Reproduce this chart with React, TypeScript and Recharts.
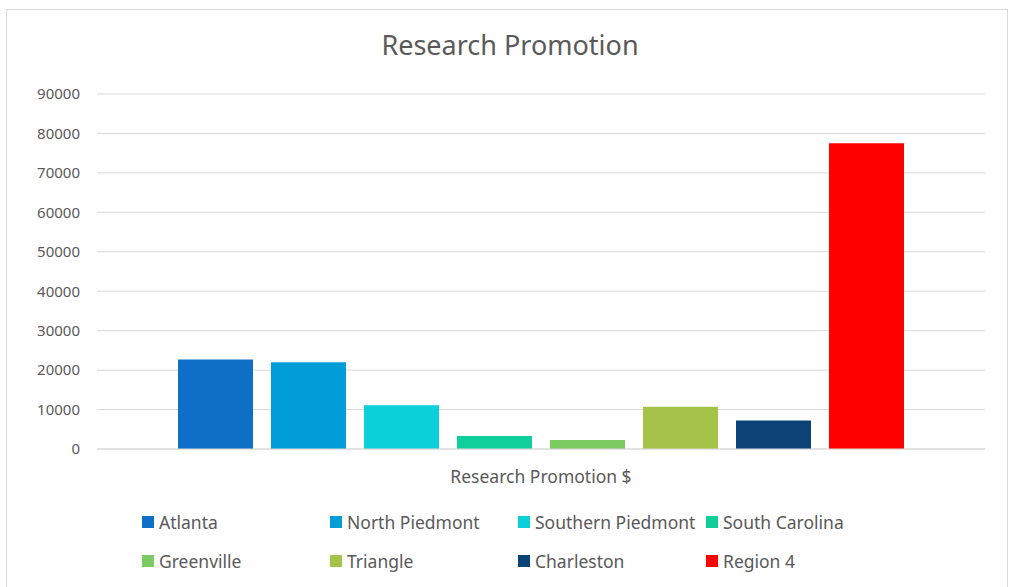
import { BarChart, Bar, XAxis, YAxis, CartesianGrid, Legend } from 'recharts';

const regions = ['Atlanta', 'North Piedmont', 'Southern Piedmont', 'South Carolina', 'Greenville', 'Triangle', 'Charleston', 'Region 4'];
const amounts = [22700, 22000, 11100, 3300, 2300, 10700, 7200, 77500];
const barColors = ['#0F6FC6', '#009DD9', '#0BD0D9', '#10CF9B', '#7CCA62', '#A5C249', '#0C4377', '#FF0000'];
const yTicks = [0, 10000, 20000, 30000, 40000, 50000, 60000, 70000, 80000, 90000];
const category = 'Research Promotion $';

const row: Record<string, string | number> = { name: category };
regions.forEach((r, i) => {
  row[r] = amounts[i];
});
const chartData = [row];

const FONT = '"Noto Sans", sans-serif';
const GREY = '#595959';

function LegendGrid({ payload }: any) {
  // keep series order, not alphabetical
  const items = [...(payload || [])].sort((a: any, b: any) => regions.indexOf(a.value) - regions.indexOf(b.value));
  return (
    <div
      style={{
        display: 'grid',
        gridTemplateColumns: 'repeat(4, 188px)',
        rowGap: 20,
        paddingLeft: 142,
        fontFamily: FONT,
        fontSize: 17.5,
        color: GREY,
      }}
    >
      {items.map((p: any) => (
        <div key={p.value} style={{ display: 'flex', alignItems: 'center', height: 19, whiteSpace: 'nowrap' }}>
          <span style={{ width: 12, height: 12, background: p.color, marginRight: 5, display: 'inline-block', flexShrink: 0 }} />
          {p.value}
        </div>
      ))}
    </div>
  );
}

export default function App() {
  return (
    <div style={{ position: 'fixed', left: 0, top: 0, width: 1013, height: 587, background: '#fff', overflow: 'hidden' }}>
      <div
        style={{
          position: 'absolute',
          left: 6,
          top: 9,
          width: 1000,
          height: 600,
          border: '1px solid #d9d9d9',
        }}
      />
      <div
        style={{
          position: 'absolute',
          left: 0,
          width: 1020,
          top: 26,
          textAlign: 'center',
          fontFamily: FONT,
          fontSize: 27,
          color: GREY,
        }}
      >
        Research Promotion
      </div>
      <div style={{ position: 'absolute', left: 0, top: 0 }}>
        <BarChart
          width={1013}
          height={587}
          data={chartData}
          margin={{ top: 94, right: 28, bottom: 98, left: 0 }}
          barCategoryGap={81}
          barGap={18}
        >
          <CartesianGrid vertical={false} stroke="#d9d9d9" />
          <XAxis
            dataKey="name"
            axisLine={{ stroke: '#d9d9d9' }}
            tickLine={false}
            tickSize={0}
            tickMargin={22}
            height={40}
            tick={{ fill: GREY, fontSize: 17.5, fontFamily: FONT }}
          />
          <YAxis
            domain={[0, 90000]}
            ticks={yTicks}
            interval={0}
            width={97}
            axisLine={false}
            tickLine={false}
            tickSize={0}
            tickMargin={17}
            tick={{ fill: GREY, fontSize: 15, fontFamily: FONT }}
          />
          <Legend
            layout="horizontal"
            verticalAlign="middle"
            align="center"
            wrapperStyle={{ position: 'absolute', top: 512, left: 0, width: 1013 }}
            content={<LegendGrid />}
          />
          {regions.map((r, i) => (
            <Bar key={r} dataKey={r} fill={barColors[i]} isAnimationActive={false} />
          ))}
        </BarChart>
      </div>
    </div>
  );
}
